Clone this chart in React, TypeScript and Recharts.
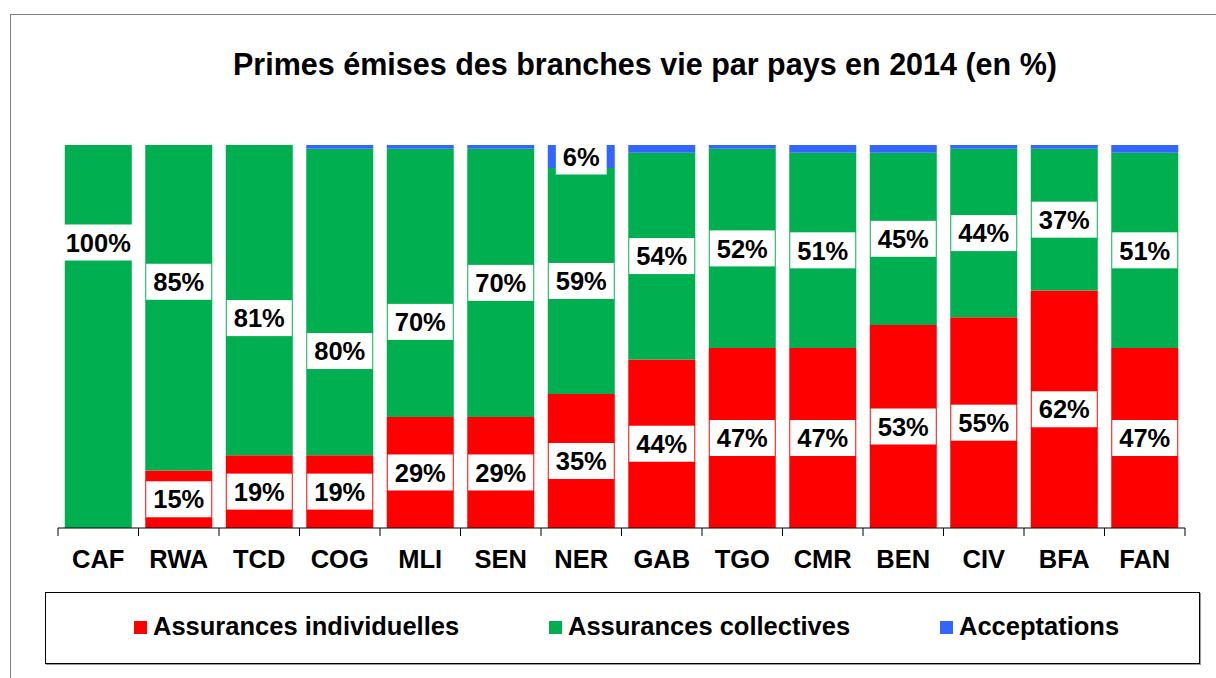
import React from "react";
import { BarChart, Bar, XAxis, YAxis, LabelList } from "recharts";

const countries = ["CAF", "RWA", "TCD", "COG", "MLI", "SEN", "NER", "GAB", "TGO", "CMR", "BEN", "CIV", "BFA", "FAN"];
const individuelles = [0, 15, 19, 19, 29, 29, 35, 44, 47, 47, 53, 55, 62, 47];
const collectives = [100, 85, 81, 80, 70, 70, 59, 54, 52, 51, 45, 44, 37, 51];
const acceptations = [0, 0, 0, 1, 1, 1, 6, 2, 1, 2, 2, 1, 1, 2];

// labels that were dragged by hand in the original (px from segment centre)
const labelNudge: Record<string, Record<string, number>> = {
  col: { CAF: -94, RWA: -26, TCD: 18, COG: 49, MLI: 39 },
};

const series = [
  { key: "ind", name: "Assurances individuelles", color: "#FF0000", legendX: 134 },
  { key: "col", name: "Assurances collectives", color: "#00B050", legendX: 549 },
  { key: "acc", name: "Acceptations", color: "#3366FF", legendX: 940 },
];

const data = countries.map((c, i) => ({
  country: c,
  ind: individuelles[i],
  col: collectives[i],
  acc: acceptations[i],
}));

const W = 1216;
const H = 678;
const MARGIN = { top: 145, right: 31, left: 58, bottom: 120 };
const BAND = (W - MARGIN.left - MARGIN.right) / countries.length;
const FONT = "'Liberation Sans', Arial, sans-serif";
const FS = 25.5;

function textWidth(s: string) {
  let w = 0;
  for (const ch of s) w += ch === "%" ? 0.889 : 0.556;
  return w * FS;
}

function makeLabel(key: string) {
  return function BoxLabel(props: any) {
    const { x, y, width, height, value, index } = props;
    if (!value || value < 5) return null;
    const txt = `${value}%`;
    const bw = textWidth(txt) + 14;
    const cx = x + width / 2;
    const cy = y + height / 2 + ((labelNudge[key] || {})[countries[index]] || 0);
    return (
      <g>
        <rect x={cx - bw / 2} y={cy - 18} width={bw} height={36} fill="#fff" />
        <text x={cx} y={cy} dy="0.36em" textAnchor="middle" fontFamily={FONT} fontWeight="bold" fontSize={FS} fill="#000">
          {txt}
        </text>
      </g>
    );
  };
}

function Tick(props: any) {
  const { x, y, payload, index } = props;
  const left = x - BAND / 2;
  return (
    <g>
      <line x1={left} x2={left} y1={y - 8} y2={y} stroke="#000" />
      {index === countries.length - 1 && (
        <line x1={left + BAND} x2={left + BAND} y1={y - 8} y2={y} stroke="#000" />
      )}
      <text x={x} y={y + 32} textAnchor="middle" fontFamily={FONT} fontWeight="bold" fontSize={FS} fill="#000">
        {payload.value}
      </text>
    </g>
  );
}

export default function App() {
  return (
    <div style={{ position: "absolute", left: 0, top: 0, width: W, height: H, overflow: "hidden", background: "#fff", fontFamily: FONT }}>
      <div style={{ position: "absolute", left: 10, top: 14, width: W, height: H, border: "1px solid #808080" }} />
      <div style={{ position: "absolute", left: 0, top: 49, width: 1290, textAlign: "center", fontSize: 30.5, lineHeight: "30px", fontWeight: "bold", color: "#000" }}>
        Primes émises des branches vie par pays en 2014 (en %)
      </div>
      <div style={{ position: "absolute", left: 0, top: 0 }}>
        <BarChart width={W} height={H} data={data} margin={MARGIN} barCategoryGap="8.4%">
          <XAxis
            dataKey="country"
            height={30}
            axisLine={{ stroke: "#000" }}
            tickLine={false}
            tickSize={8}
            tickMargin={0}
            interval={0}
            tick={<Tick />}
          />
          <YAxis hide domain={[0, 100]} />
          {series.map((s) => {
            const Lbl = makeLabel(s.key);
            return (
              <Bar key={s.key} dataKey={s.key} name={s.name} stackId="a" fill={s.color} isAnimationActive={false}>
                <LabelList dataKey={s.key} content={<Lbl />} />
              </Bar>
            );
          })}
        </BarChart>
      </div>
      <div style={{ position: "absolute", left: 45, top: 592, width: 1153, height: 70, border: "1px solid #000", boxShadow: "1px 1px 0 #999" }} />
      {series.map((s) => (
        <div key={s.key} style={{ position: "absolute", left: s.legendX, top: 613, height: 26, display: "flex", alignItems: "center", fontSize: FS, lineHeight: "26px", fontWeight: "bold", color: "#000", whiteSpace: "nowrap" }}>
          <span style={{ display: "inline-block", width: 13, height: 13, background: s.color, marginRight: 6, marginTop: 3 }} />
          {s.name}
        </div>
      ))}
    </div>
  );
}
